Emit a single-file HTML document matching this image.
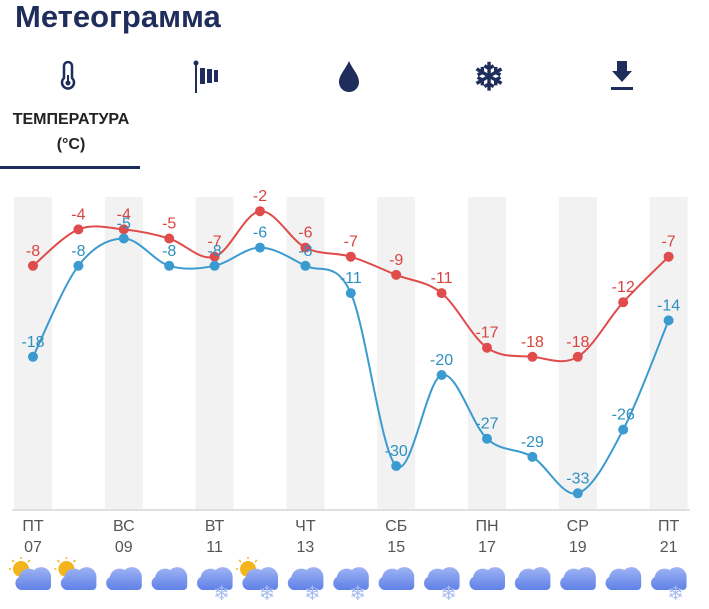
<!DOCTYPE html>
<html><head><meta charset="utf-8"><style>
body{margin:0;width:709px;height:604px;background:#fff;overflow:hidden;font-family:"Liberation Sans",sans-serif}
</style></head><body>
<svg id="s" width="709" height="604" xmlns="http://www.w3.org/2000/svg" font-family="Liberation Sans, sans-serif">
<defs><linearGradient id="cg" x1="0" y1="0" x2="0" y2="1"><stop offset="0" stop-color="#9fb4f5"/><stop offset="1" stop-color="#5f80e6"/></linearGradient></defs>
<text x="15" y="27" font-size="31" font-weight="bold" fill="#1f2d5c">Метеограмма</text>
<g fill="none" stroke="#1f2d5c" stroke-width="2.5">
<path d="M64 66 v12 a6 6 0 1 0 8 0 v-12 a4 4 0 0 0 -8 0z"/>
</g>
<line x1="68" y1="75" x2="68" y2="82" stroke="#1f2d5c" stroke-width="2"/><circle cx="68" cy="83" r="2.5" fill="#1f2d5c"/>
<g fill="#1f2d5c">
<circle cx="196" cy="63" r="2.5"/><rect x="195" y="63" width="2" height="30"/>
<rect x="200" y="68" width="5" height="16"/><rect x="207" y="69" width="5" height="14"/><rect x="214" y="70" width="4" height="12"/>
<path d="M349 61 C345 70 339 75 339 82 a10 10 0 0 0 20 0 C359 75 353 70 349 61z"/>
<rect x="617" y="61" width="10" height="11"/><path d="M612 71 h20 l-10 11z"/><rect x="611" y="87" width="22" height="3"/>
</g>
<text x="489" y="90" font-size="38" text-anchor="middle" fill="#1f2d5c" font-weight="bold">❄</text>
<text x="71" y="124" font-size="16" font-weight="bold" text-anchor="middle" fill="#222">ТЕМПЕРАТУРА</text>
<text x="71" y="149" font-size="16" font-weight="bold" text-anchor="middle" fill="#222">(°C)</text>
<rect x="0" y="166" width="140" height="3" fill="#1f2d5c"/>
<g id="g"></g>
</svg>
<script>
var xs=[],i;for(i=0;i<15;i++)xs.push(33+i*45.4);
var red=[-8,-4,-4,-5,-7,-2,-6,-7,-9,-11,-17,-18,-18,-12,-7];
var blue=[-18,-8,-5,-8,-8,-6,-8,-11,-30,-20,-27,-29,-33,-26,-14];
function Y(t){return 193-9.1*t}
var g=document.getElementById('g'),h='';
for(i=0;i<15;i+=2)h+='<rect x="'+(xs[i]-19)+'" y="197" width="38" height="313" fill="#f2f2f2"/>';
h+='<line x1="12" y1="510" x2="690" y2="510" stroke="#e0e0e0" stroke-width="2"/>';
function path(d){var p=d.map(function(t,i){return[xs[i],Y(t)]}),s='M'+p[0][0]+' '+p[0][1];
for(var i=0;i<p.length-1;i++){var p0=p[i-1]||p[i],p1=p[i],p2=p[i+1],p3=p[i+2]||p2;
s+=' C'+(p1[0]+(p2[0]-p0[0])/6)+' '+(p1[1]+(p2[1]-p0[1])/6)+' '+(p2[0]-(p3[0]-p1[0])/6)+' '+(p2[1]-(p3[1]-p1[1])/6)+' '+p2[0]+' '+p2[1];}return s}
[[red,'#e04b4b','#d9443e'],[blue,'#3b9bd0','#2f8fc0']].forEach(function(a){
h+='<path d="'+path(a[0])+'" fill="none" stroke="'+a[1]+'" stroke-width="2"/>';
a[0].forEach(function(t,i){h+='<circle cx="'+xs[i]+'" cy="'+Y(t)+'" r="5" fill="'+a[1]+'"/>';
h+='<text x="'+xs[i]+'" y="'+(Y(t)-10)+'" font-size="16" text-anchor="middle" fill="'+a[2]+'">'+t+'</text>';});});
var days=['ПТ','ВС','ВТ','ЧТ','СБ','ПН','СР','ПТ'],nums=['07','09','11','13','15','17','19','21'];
for(i=0;i<8;i++){h+='<text x="'+xs[i*2]+'" y="531" font-size="16" text-anchor="middle" fill="#555">'+days[i]+'</text><text x="'+xs[i*2]+'" y="552" font-size="16" text-anchor="middle" fill="#555">'+nums[i]+'</text>';}
var sun=[1,1,0,0,0,1,0,0,0,0,0,0,0,0,0],snow=[0,0,0,0,1,1,1,1,0,1,0,0,0,0,1];
for(i=0;i<15;i++){var x=xs[i],y=578;
if(sun[i])h+='<circle cx="'+(x-12)+'" cy="'+(y-9)+'" r="8" fill="#f3b51b"/><g stroke="#f3b51b" stroke-width="1.5"><line x1="'+(x-12)+'" y1="'+(y-21)+'" x2="'+(x-12)+'" y2="'+(y-19)+'"/><line x1="'+(x-24)+'" y1="'+(y-9)+'" x2="'+(x-22)+'" y2="'+(y-9)+'"/><line x1="'+(x-21)+'" y1="'+(y-18)+'" x2="'+(x-19)+'" y2="'+(y-16)+'"/><line x1="'+(x-3)+'" y1="'+(y-18)+'" x2="'+(x-5)+'" y2="'+(y-16)+'"/></g>';
h+='<path d="M'+(x-12)+' '+(y+12)+' a7 7 0 0 1 -2 -13 a10 10 0 0 1 15 -7 a10 10 0 0 1 17 6 v10 a4 4 0 0 1 -4 4 h-26z" fill="url(#cg)"/>';
if(snow[i])h+='<text x="'+(x+7)+'" y="'+(y+22)+'" font-size="20" text-anchor="middle" fill="#a9bdf0">❄</text>';}
g.innerHTML=h;
</script>
</body></html>
